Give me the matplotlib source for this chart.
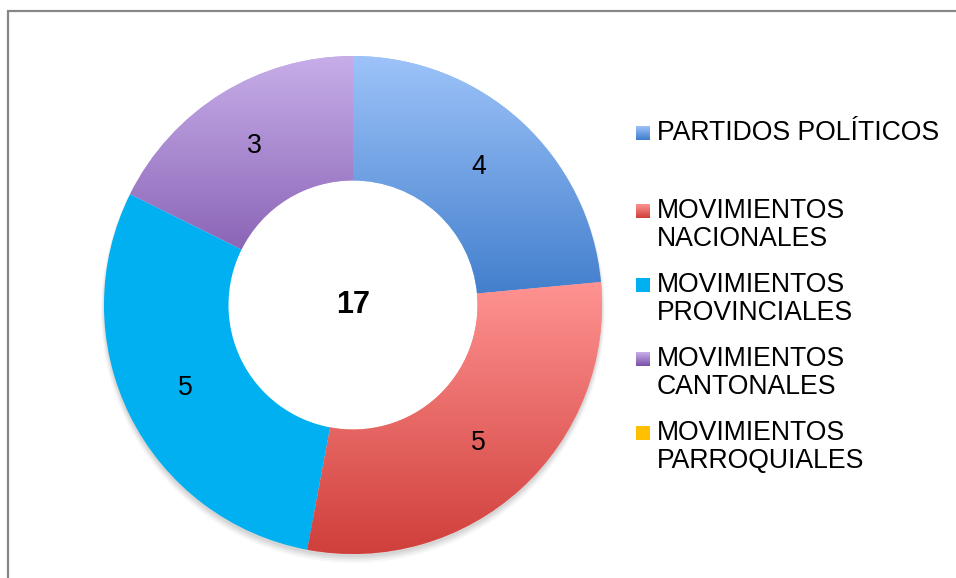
import numpy as np
import matplotlib
matplotlib.use("Agg")
import matplotlib.pyplot as plt
from matplotlib.colors import LinearSegmentedColormap
from matplotlib.patches import Rectangle

plt.rcParams['font.family'] = ['Liberation Sans', 'DejaVu Sans']

categories = ["PARTIDOS POLÍTICOS", "MOVIMIENTOS\nNACIONALES", "MOVIMIENTOS\nPROVINCIALES",
              "MOVIMIENTOS\nCANTONALES", "MOVIMIENTOS\nPARROQUIALES"]
values = [4, 5, 5, 3, 0]
total_label = "17"

# gradient (top colour, bottom colour) for each slice
grad_top = ["#9dc3f9", "#ff9391", "#00b0f0", "#c7aee9", "#ffc000"]
grad_bot = ["#3f7ccb", "#cf3e3a", "#00b0f0", "#7a50a8", "#ffc000"]

fig = plt.figure(figsize=(9.56, 5.78), dpi=100)
W, H = 956, 578
FS = 19.2

# outer frame (only left and top edges visible)
fig.patches.append(Rectangle((8 / W, -0.2), 1.2, 1.2 - 11 / H, transform=fig.transFigure,
                             fill=False, edgecolor="#878787", linewidth=1.6))

cx, cy, r = 353, 305, 249
pad = 1.05
ax = fig.add_axes([(cx - r * pad) / W, (H - cy - r * pad) / H, 2 * r * pad / W, 2 * r * pad / H])
ax.set_aspect("equal")
ax.axis("off")

# soft shadow along the outer edge of the ring
for i, a in enumerate([0.05, 0.05, 0.04, 0.03]):
    ax.pie([1], radius=1.0 + 0.004 * i, center=(0, -0.012 - 0.004 * i), colors=["#000000"],
           wedgeprops=dict(width=0.15, alpha=a, linewidth=0))

wedges, _, autotexts = ax.pie(values, radius=1.0, startangle=90, counterclock=False,
                              colors=grad_top, wedgeprops=dict(width=0.5, linewidth=0),
                              autopct=lambda p: "%d" % round(p * sum(values) / 100) if p > 0 else "",
                              pctdistance=0.75, textprops=dict(fontsize=FS, color="black"))

for w, c0, c1, v in zip(wedges, grad_top, grad_bot, values):
    if v == 0 or c0 == c1:
        continue
    verts = w.get_patch_transform().transform(w.get_path().vertices)
    x0, y0 = verts.min(axis=0)
    x1, y1 = verts.max(axis=0)
    cmap = LinearSegmentedColormap.from_list("g", [c1, c0])
    grad = np.linspace(0, 1, 256).reshape(-1, 1)
    im = ax.imshow(grad, cmap=cmap, extent=(x0, x1, y0, y1), origin="lower",
                   aspect="auto", zorder=w.get_zorder() + 0.1, interpolation="bilinear")
    im.set_clip_path(w)
ax.set_xlim(-pad, pad)
ax.set_ylim(-pad, pad)
for t in autotexts:
    t.set_zorder(5)

ax.text(0, 0, total_label, ha="center", va="center", fontsize=22, fontweight="bold", zorder=5)

# legend
leg_y = [133, 225, 299, 373, 447]
for lab, c0, c1, y in zip(categories, grad_top, grad_bot, leg_y):
    lines = lab.count("\n") + 1
    sq_y = y - (lines - 1) * 14
    lax = fig.add_axes([636 / W, (H - sq_y - 7) / H, 14 / W, 14 / H])
    lax.imshow(np.linspace(0, 1, 64).reshape(-1, 1),
               cmap=LinearSegmentedColormap.from_list("g", [c0, c1]), aspect="auto",
               extent=(0, 1, 0, 1), origin="upper")
    lax.axis("off")
    fig.text(657 / W, (H - y) / H, lab, ha="left", va="center", fontsize=FS,
             linespacing=1.13, color="black")

fig.savefig("out.png", dpi=100)
